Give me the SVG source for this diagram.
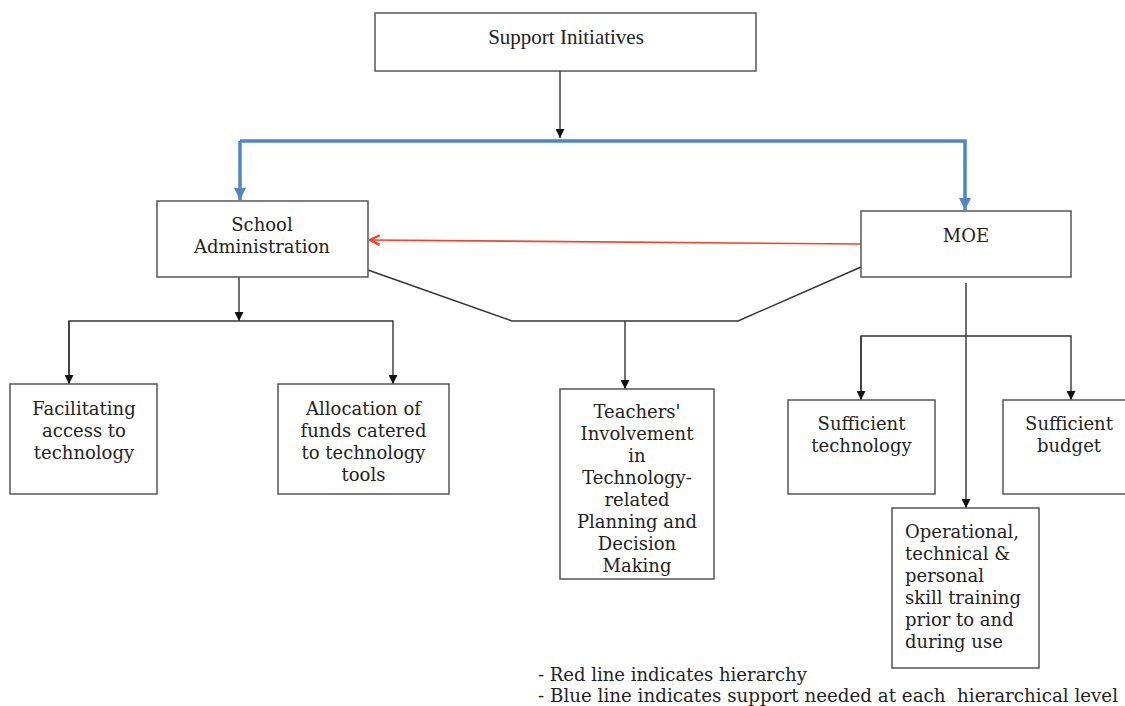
<svg xmlns="http://www.w3.org/2000/svg" width="1125" height="706" viewBox="0 0 1125 706">
<defs>
<style>
.box{fill:#fff;stroke:#555;stroke-width:1.5}
.t{font-family:"DejaVu Serif","Liberation Serif",serif;font-size:18px;fill:#222;text-anchor:middle}
.tl{font-family:"DejaVu Serif","Liberation Serif",serif;font-size:18px;fill:#222}
.k{fill:none;stroke:#333;stroke-width:1.4}
.b{fill:none;stroke:#4f86c6;stroke-width:3.5}
.r{fill:none;stroke:#f5402a;stroke-width:1.6}
</style>
<marker id="ak" viewBox="0 0 10 10" refX="10" refY="5" markerWidth="9" markerHeight="9" markerUnits="userSpaceOnUse" orient="auto"><path d="M0,0L10,5L0,10z" fill="#111"/></marker>
<marker id="ab" viewBox="0 0 10 10" refX="10" refY="5" markerWidth="12" markerHeight="12" markerUnits="userSpaceOnUse" orient="auto"><path d="M0,0L10,5L0,10z" fill="#4f86c6"/></marker>
<marker id="ar" viewBox="0 0 10 10" refX="9" refY="5" markerWidth="12" markerHeight="12" markerUnits="userSpaceOnUse" orient="auto"><path d="M1,1L9,5L1,9" fill="none" stroke="#f5402a" stroke-width="2"/></marker>
</defs>
<rect width="1125" height="706" fill="#fff"/>
<g id="connectors">
<path class="k" d="M560,71V138" marker-end="url(#ak)"/>
<path class="b" d="M240,141H965V210" marker-end="url(#ab)"/>
<path class="b" d="M240,141V200" marker-end="url(#ab)"/>
<path class="r" d="M861,244L370,240" marker-end="url(#ar)"/>
<path class="k" d="M368,270L512,321H738L861,267"/>
<path class="k" d="M625,321V389" marker-end="url(#ak)"/>
<path class="k" d="M239,277V321" marker-end="url(#ak)"/>
<path class="k" d="M69,384V321H393V384" marker-end="url(#ak)"/>
<path class="k" d="M69,321V384" marker-end="url(#ak)"/>
<path class="k" d="M966,283V508" marker-end="url(#ak)"/>
<path class="k" d="M861,400V336H1071V400" marker-end="url(#ak)"/>
<path class="k" d="M861,336V400" marker-end="url(#ak)"/>
</g>
<g id="support-initiatives">
<rect class="box" x="375" y="13" width="381" height="58"/>
<text x="566" y="44" style="font-family:'Liberation Serif',serif;font-size:21px;fill:#222;text-anchor:middle">Support Initiatives</text>
</g>
<g id="school-administration">
<rect class="box" x="157" y="201" width="211" height="76"/>
<text class="t" x="262" y="231">School</text>
<text class="t" x="262" y="253">Administration</text>
</g>
<g id="moe">
<rect class="box" x="861" y="211" width="210" height="66"/>
<text class="t" x="966" y="242">MOE</text>
</g>
<g id="facilitating">
<rect class="box" x="10" y="384" width="147" height="110"/>
<text class="t" x="84" y="415">Facilitating</text>
<text class="t" x="84" y="437">access to</text>
<text class="t" x="84" y="459">technology</text>
</g>
<g id="allocation">
<rect class="box" x="278" y="384" width="171" height="110"/>
<text class="t" x="363.5" y="415">Allocation of</text>
<text class="t" x="363.5" y="437">funds catered</text>
<text class="t" x="363.5" y="459">to technology</text>
<text class="t" x="363.5" y="481">tools</text>
</g>
<g id="teachers">
<rect class="box" x="560" y="389" width="154" height="190"/>
<text class="t" x="637" y="418">Teachers'</text>
<text class="t" x="637" y="440">Involvement</text>
<text class="t" x="637" y="462">in</text>
<text class="t" x="637" y="484">Technology-</text>
<text class="t" x="637" y="506">related</text>
<text class="t" x="637" y="528">Planning and</text>
<text class="t" x="637" y="550">Decision</text>
<text class="t" x="637" y="572">Making</text>
</g>
<g id="sufficient-technology">
<rect class="box" x="788" y="400" width="147" height="94"/>
<text class="t" x="861.5" y="430">Sufficient</text>
<text class="t" x="861.5" y="452">technology</text>
</g>
<g id="sufficient-budget">
<rect class="box" x="1003" y="400" width="124" height="94"/>
<text class="t" x="1069" y="430">Sufficient</text>
<text class="t" x="1069" y="452">budget</text>
</g>
<g id="training">
<rect class="box" x="892" y="508" width="147" height="160"/>
<text class="tl" x="905" y="538">Operational,</text>
<text class="tl" x="905" y="560">technical &amp;</text>
<text class="tl" x="905" y="582">personal</text>
<text class="tl" x="905" y="604">skill training</text>
<text class="tl" x="905" y="626">prior to and</text>
<text class="tl" x="905" y="648">during use</text>
</g>
<g id="legend">
<text class="tl" x="538" y="681">- Red line indicates hierarchy</text>
<text class="tl" x="538" y="702" textLength="580" lengthAdjust="spacingAndGlyphs" xml:space="preserve">- Blue line indicates support needed at each  hierarchical level</text>
</g>
</svg>
